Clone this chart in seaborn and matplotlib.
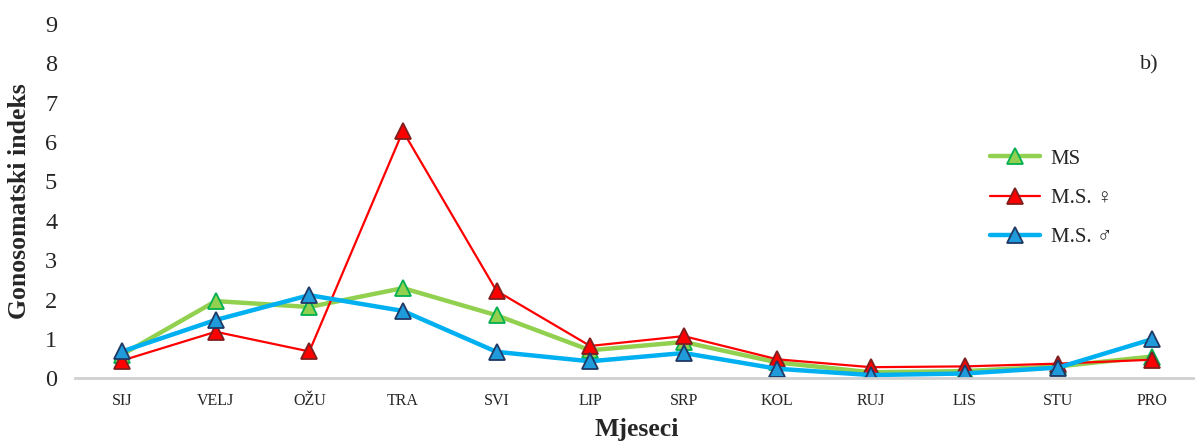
import pandas as pd
import matplotlib.pyplot as plt
import seaborn as sns
from matplotlib.lines import Line2D

# monthly gonadosomatic index values
months = ["SIJ", "VELJ", "OŽU", "TRA", "SVI", "LIP", "SRP", "KOL", "RUJ", "LIS", "STU", "PRO"]
ms_all = [0.60, 1.96, 1.81, 2.29, 1.60, 0.71, 0.92, 0.40, 0.15, 0.18, 0.30, 0.55]
ms_female = [0.45, 1.18, 0.68, 6.28, 2.22, 0.82, 1.07, 0.48, 0.28, 0.30, 0.37, 0.47]
ms_male = [0.68, 1.48, 2.11, 1.71, 0.67, 0.43, 0.64, 0.24, 0.08, 0.12, 0.27, 0.99]

series = [
    ("MS", ms_all, "#92D050", "#92D050", "#00B050", 3.2),
    ("M.S. ♀", ms_female, "#FF0000", "#FF0000", "#7F1F1F", 1.6),
    ("M.S. ♂", ms_male, "#00B0F0", "#1F9BDB", "#1F3864", 3.2),
]

sns.set_style("white")
plt.rcParams["font.family"] = ["Liberation Serif", "DejaVu Sans"]

fig = plt.figure(figsize=(11.95, 4.46), dpi=100)
ax = fig.add_axes([0.063, 0.152, 0.94, 0.794])

handles = []
for label, vals, lc, fc, ec, lw in series:
    df = pd.DataFrame({"month": months, "value": vals})
    sns.lineplot(data=df, x="month", y="value", ax=ax, color=lc, linewidth=lw,
                 marker="^", markersize=11, markerfacecolor=fc, markeredgecolor=ec,
                 markeredgewidth=1.3, sort=False)
    handles.append(Line2D([], [], color=lc, linewidth=lw, marker="^", markersize=11,
                          markerfacecolor=fc, markeredgecolor=ec, markeredgewidth=1.3,
                          label=label))

ax.set_xlim(-0.5, 11.5)
ax.set_ylim(0, 9)
ax.set_yticks(range(0, 10))
ax.tick_params(axis="y", labelsize=17.5, length=0, pad=13)
ax.tick_params(axis="x", labelsize=11.5, length=0, pad=11)

for s in ["top", "right", "left"]:
    ax.spines[s].set_visible(False)
ax.spines["bottom"].set_color("#D0D0D0")
ax.spines["bottom"].set_linewidth(2)

ax.set_xlabel("Mjeseci", fontsize=18.5, fontweight="bold", labelpad=6)
ax.set_ylabel("Gonosomatski indeks", fontsize=18.5, fontweight="bold", labelpad=10)

leg = ax.legend(handles=handles, loc="upper left", bbox_to_anchor=(0.798, 0.70),
                frameon=False, fontsize=15, handlelength=2.4, labelspacing=0.95,
                handletextpad=0.5)

fig.text(0.954, 0.845, "b)", fontsize=16)

fig.savefig("out.png", dpi=100)
